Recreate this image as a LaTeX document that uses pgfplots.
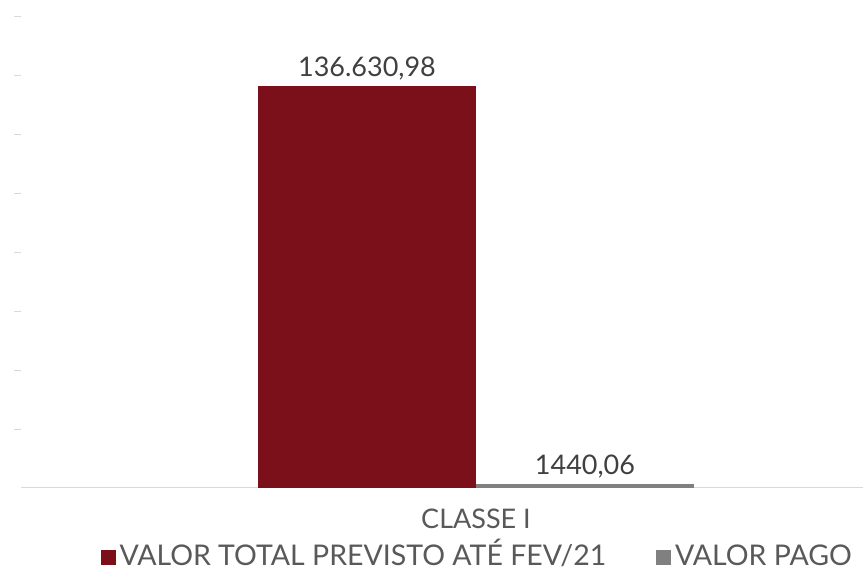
\documentclass[border=0pt]{standalone}
\usepackage{fontspec}
\setmainfont{Lato}
\usepackage{pgfplots}
\pgfplotsset{compat=1.18}
\definecolor{barred}{RGB}{123,16,27}
\definecolor{bargray}{RGB}{128,128,128}
\definecolor{txtgray}{RGB}{89,89,89}
\definecolor{lblgray}{RGB}{64,64,64}
\definecolor{linegray}{RGB}{217,217,217}

\begin{document}
\begin{tikzpicture}
\useasboundingbox (-21pt,-87pt) rectangle (842pt,488pt);
\begin{axis}[
    scale only axis,
    width=842pt, height=471pt,
    xmin=-455, xmax=387,
    ymin=0, ymax=160000,
    scaled y ticks=false,
    ybar=0pt, bar width=218pt,
    axis x line*=bottom, axis y line*=left,
    x axis line style={draw=linegray, line width=1pt},
    y axis line style={draw=none},
    xtick={0}, xticklabels={CLASSE I},
    x tick style={draw=none},
    x tick label style={font=\fontsize{27}{30}\selectfont, text=txtgray, yshift=-10pt},
    ytick={20000,40000,...,160000}, yticklabels={},
    y tick style={draw=linegray, line width=1pt},
    tick align=outside, major tick length=7pt,
    point meta=explicit symbolic,
    nodes near coords,
    every node near coord/.append style={font=\fontsize{27}{30}\selectfont, text=lblgray, anchor=south, yshift=2pt},
    legend columns=2,
    legend cell align=left,
    legend style={at={(0.543,-0.144)}, anchor=center, draw=none, fill=none,
        inner sep=0pt, outer sep=0pt,
        font=\fontsize{28.5}{32}\selectfont, text=txtgray,
        nodes={text height=20pt, text depth=0pt, inner xsep=4pt, inner ysep=0pt},
        /tikz/every even column/.append style={column sep=46pt}},
    legend image code/.code={\fill[#1] (0pt,-9pt) rectangle (15pt,6pt);},
]
\addplot[fill=barred, draw=none] coordinates {(0,136630.98) [136.630,98]};
\addlegendentry{VALOR TOTAL PREVISTO ATÉ FEV/21}
\addplot[fill=bargray, draw=none] coordinates {(0,1440.06) [1440,06]};
\addlegendentry{VALOR PAGO}
\end{axis}
\end{tikzpicture}
\end{document}
